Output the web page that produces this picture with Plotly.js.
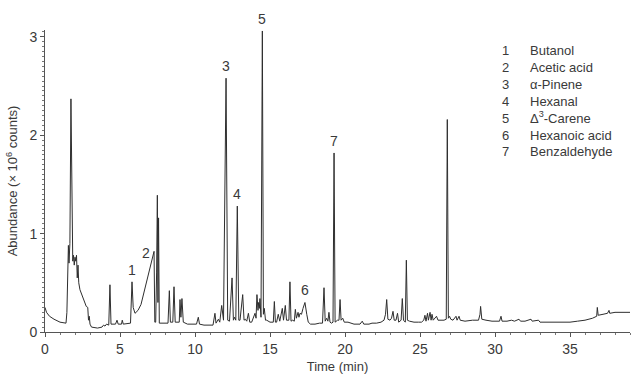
<!DOCTYPE html>
<html>
<head>
<meta charset="utf-8">
<script src="https://cdn.plot.ly/plotly-3.0.1.min.js"></script>
<style>html,body{margin:0;padding:0;background:#fff;}#chart{width:640px;height:377px;}</style>
</head>
<body>
<div id="chart"></div>
<script>
// Retention time (min)
var timeMin = [
 0.00,0.10,0.30,0.60,1.00,1.40,1.46,1.52,1.56,1.60,1.66,1.73,1.80,1.85,1.90,1.95,2.00,2.05,2.10,2.15,2.20,2.25,
 2.33,2.50,2.60,2.70,2.75,2.85,2.90,2.95,3.00,3.10,3.50,3.80,3.90,4.00,4.10,4.25,4.33,4.40,4.70,4.80,4.88,5.10,5.15,5.22,
 5.70,5.80,5.88,6.00,6.20,6.40,6.60,6.80,7.00,7.15,7.27,7.32,7.38,7.44,7.49,7.53,7.57,7.62,
 8.20,8.29,8.36,8.52,8.60,8.68,8.95,9.00,9.06,9.13,9.22,9.50,10.10,10.22,10.30,10.60,11.20,11.33,11.40,11.56,11.65,11.78,11.90,
 12.07,12.18,12.30,12.47,12.56,12.64,12.72,12.82,12.92,13.00,13.18,13.27,13.35,13.45,13.56,13.65,13.78,13.90,14.00,14.07,
 14.13,14.20,14.24,14.29,14.33,14.40,14.49,14.56,14.62,14.70,14.78,15.00,15.22,15.29,15.36,15.44,15.55,15.65,15.82,15.90,
 16.02,16.10,16.16,16.26,16.33,16.40,16.51,16.62,16.69,16.76,16.87,16.93,17.00,17.10,17.20,17.33,17.45,17.55,17.70,18.00,
 18.30,18.50,18.60,18.68,18.78,18.86,18.93,19.00,19.10,19.20,19.27,19.34,19.50,19.60,19.67,19.74,19.85,19.95,20.20,20.40,
 20.60,21.00,21.15,21.25,21.60,21.80,22.10,22.40,22.60,22.70,22.78,22.86,23.00,23.10,23.20,23.28,23.40,23.50,23.58,23.74,
 23.82,23.90,24.02,24.09,24.16,24.30,24.60,24.90,25.10,25.25,25.33,25.40,25.50,25.56,25.67,25.74,25.80,25.88,26.10,26.20,
 26.60,26.75,26.82,26.89,26.97,27.05,27.20,27.40,27.47,27.60,27.68,28.00,28.50,28.90,29.00,29.04,29.12,29.40,29.80,30.30,
 30.40,30.47,30.80,31.10,31.30,31.60,31.70,32.00,32.40,32.48,32.90,33.00,33.50,34.00,34.50,35.00,35.50,36.00,36.50,36.78,
 36.82,36.88,37.20,37.50,37.60,37.65,38.00,38.50,39.00
];
// Abundance (x 10^6 counts)
var abundance = [
 0.25,0.20,0.16,0.13,0.10,0.09,0.20,0.80,0.88,0.70,0.90,2.37,1.00,0.72,0.78,0.68,0.76,0.72,0.78,0.55,0.68,0.50,
 0.43,0.36,0.32,0.27,0.26,0.25,0.12,0.16,0.08,0.05,0.04,0.05,0.07,0.06,0.08,0.07,0.48,0.08,0.08,0.12,0.08,0.08,0.12,0.08,
 0.09,0.51,0.25,0.19,0.22,0.28,0.40,0.52,0.65,0.74,0.82,0.10,0.10,0.60,1.39,0.30,1.16,0.09,
 0.09,0.42,0.10,0.10,0.46,0.10,0.10,0.33,0.15,0.34,0.10,0.08,0.08,0.15,0.08,0.07,0.07,0.19,0.09,0.13,0.10,0.27,0.12,
 2.58,0.12,0.11,0.55,0.12,0.15,0.12,1.28,0.12,0.12,0.38,0.12,0.13,0.11,0.19,0.10,0.10,0.14,0.19,0.14,
 0.38,0.22,0.30,0.24,0.34,0.15,3.06,0.18,0.24,0.12,0.12,0.10,0.10,0.31,0.10,0.10,0.18,0.11,0.24,0.12,
 0.27,0.12,0.12,0.12,0.51,0.11,0.12,0.11,0.23,0.14,0.20,0.15,0.19,0.18,0.24,0.30,0.18,0.10,0.08,0.08,
 0.09,0.09,0.45,0.11,0.14,0.11,0.20,0.10,0.09,0.10,1.82,0.10,0.12,0.12,0.33,0.12,0.14,0.10,0.10,0.09,
 0.08,0.08,0.11,0.08,0.08,0.09,0.09,0.10,0.12,0.18,0.33,0.13,0.12,0.14,0.21,0.12,0.12,0.19,0.10,0.12,
 0.34,0.12,0.10,0.73,0.12,0.11,0.10,0.10,0.10,0.12,0.17,0.11,0.19,0.12,0.20,0.12,0.18,0.12,0.16,0.12,
 0.12,0.13,2.16,0.14,0.16,0.13,0.12,0.16,0.12,0.16,0.12,0.11,0.12,0.12,0.18,0.26,0.13,0.12,0.11,0.11,
 0.16,0.11,0.11,0.12,0.11,0.13,0.11,0.11,0.13,0.11,0.12,0.10,0.10,0.10,0.10,0.10,0.11,0.12,0.14,0.16,
 0.25,0.17,0.18,0.19,0.22,0.19,0.20,0.20,0.20
];
// Labelled peaks
var peakNums = ["1","2","3","4","5","6","7"];
var peakTimes = [5.80, 6.73, 12.07, 12.82, 14.49, 17.33, 19.27];
var peakTops  = [0.51, 0.68, 2.58, 1.28, 3.06, 0.30, 1.82];
var compounds = ["Butanol","Acetic acid","α-Pinene","Hexanal","Δ<sup>3</sup>-Carene","Hexanoic acid","Benzaldehyde"];

var font = "Liberation Sans, Arial, sans-serif";
var txtColor = "#3a3a3a";

var annotations = peakNums.map(function(n, i){
  return {x: peakTimes[i], y: peakTops[i], xref:'x', yref:'y', text: n, showarrow:false,
          xanchor:'center', yanchor:'bottom', yshift:2, font:{family:font,size:14,color:txtColor}};
});
annotations.push({xref:'paper', yref:'paper', x:0.787, y:0.965, xanchor:'center', yanchor:'top', align:'center',
  showarrow:false, text: peakNums.join('<br>'), font:{family:font,size:13,color:txtColor}});
annotations.push({xref:'paper', yref:'paper', x:0.826, y:0.965, xanchor:'left', yanchor:'top', align:'left',
  showarrow:false, text: compounds.join('<br>'), font:{family:font,size:13,color:txtColor}});

var trace = {x: timeMin, y: abundance, type:'scatter', mode:'lines',
  line:{color:'#2e2e2e', width:1}, hoverinfo:'skip'};

var layout = {
  width:640, height:377,
  margin:{l:45, r:10, t:30, b:45},
  paper_bgcolor:'#fff', plot_bgcolor:'#fff',
  showlegend:false,
  xaxis:{range:[0,39], dtick:5, tick0:0, showgrid:false, zeroline:false,
    showline:true, linecolor:'#555', linewidth:1,
    ticks:'outside', ticklen:4, tickcolor:'#555',
    minor:{dtick:1, ticks:'outside', ticklen:2, tickcolor:'#777'},
    tickfont:{family:font,size:14,color:txtColor},
    title:{text:'Time (min)', font:{family:font,size:13,color:txtColor}, standoff:6}},
  yaxis:{range:[0,3.07], dtick:1, tick0:0, showgrid:false, zeroline:false,
    showline:true, linecolor:'#555', linewidth:1,
    ticks:'outside', ticklen:4, tickcolor:'#555',
    minor:{dtick:0.05, ticks:'outside', ticklen:2, tickcolor:'#777'},
    tickfont:{family:font,size:14,color:txtColor},
    title:{text:'Abundance (× 10<sup>6</sup> counts)', font:{family:font,size:13,color:txtColor}, standoff:8}},
  annotations: annotations
};

Plotly.newPlot('chart', [trace], layout, {staticPlot:true, displayModeBar:false});
</script>
</body>
</html>
